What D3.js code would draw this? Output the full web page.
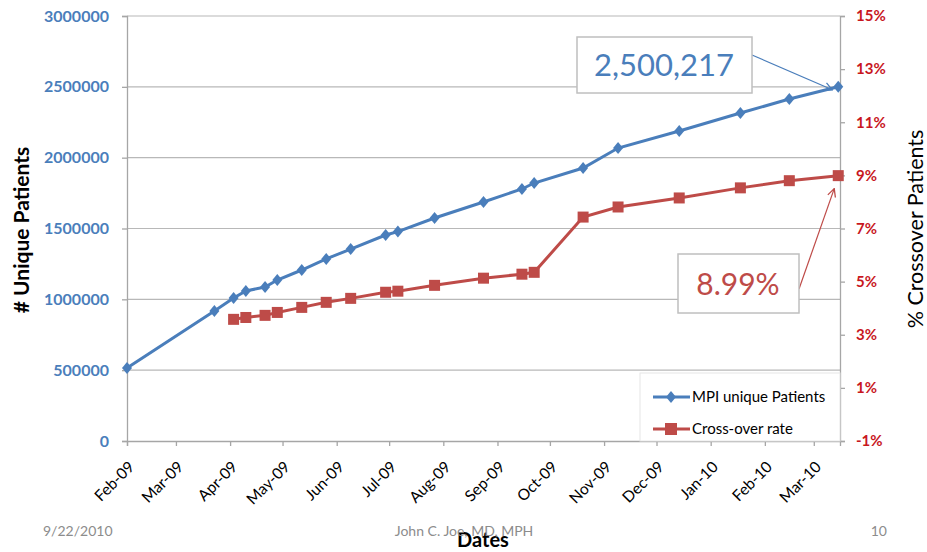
<!DOCTYPE html>
<html>
<head>
<meta charset="utf-8">
<script src="https://cdn.jsdelivr.net/npm/d3@7"></script>
<style>
  body { margin: 0; background: #fff; }
  text { font-family: Lato, "Open Sans", sans-serif; }
</style>
</head>
<body>
<div id="chart"></div>
<script>
// data
const dates = ["2009-02-01","2009-03-23","2009-04-03","2009-04-10","2009-04-21","2009-04-28",
  "2009-05-12","2009-05-26","2009-06-09","2009-06-29","2009-07-06","2009-07-27","2009-08-24",
  "2009-09-15","2009-09-22","2009-10-20","2009-11-09","2009-12-14","2010-01-18","2010-02-15","2010-03-15"];
const patients = [515000, 918000, 1009000, 1059000, 1087000, 1136000, 1207000, 1285000, 1355000,
  1454000, 1478000, 1574000, 1687000, 1779000, 1821000, 1927000, 2068000, 2188000, 2315000, 2414000, 2500217];
// cross-over rate starts at the third date
const rateDates = dates.slice(2);
const crossRate = [3.58, 3.65, 3.73, 3.84, 4.03, 4.22, 4.37, 4.60, 4.64, 4.86, 5.13, 5.28, 5.35,
  7.43, 7.81, 8.15, 8.53, 8.80, 8.99];
const leftTicks = [0, 500000, 1000000, 1500000, 2000000, 2500000, 3000000];
const rightTicks = [-1, 1, 3, 5, 7, 9, 11, 13, 15];
const seriesNames = ["MPI unique Patients", "Cross-over rate"];

const blue = "#4a7ebb", red = "#be4b48";
const parse = d3.timeParse("%Y-%m-%d");

const w = 927, h = 552;
const margin = {top: 16, right: 87, bottom: 111, left: 127};
const innerW = w - margin.left - margin.right;
const innerH = h - margin.top - margin.bottom;

const svg = d3.select("#chart").append("svg")
  .attr("width", w).attr("height", h);

const defs = svg.append("defs");
[["arrBlue", blue], ["arrRed", red]].forEach(([id, c]) => {
  defs.append("marker")
    .attr("id", id).attr("viewBox", "0 0 10 10")
    .attr("refX", 9).attr("refY", 5)
    .attr("markerWidth", 10).attr("markerHeight", 10)
    .attr("markerUnits", "userSpaceOnUse")
    .attr("orient", "auto")
    .append("path").attr("d", "M1,1L9,5L1,9")
    .attr("fill", "none").attr("stroke", c).attr("stroke-width", 1.3);
});

const g = svg.append("g").attr("transform", `translate(${margin.left},${margin.top})`);

// scales
const x = d3.scaleTime()
  .domain([parse("2009-02-01"), parse("2010-03-16")])
  .range([0, innerW]);
const yL = d3.scaleLinear().domain([0, 3000000]).range([innerH, 0]);
const yR = d3.scaleLinear().domain([-1, 15]).range([innerH, 0]);

// gridlines
g.append("g").selectAll("line")
  .data(leftTicks.filter(d => d > 0))
  .enter().append("line")
  .attr("x1", 0).attr("x2", innerW)
  .attr("y1", d => yL(d)).attr("y2", d => yL(d))
  .attr("stroke", "#b8b8b8").attr("stroke-width", 1.2);

// left axis
const yAxisG = g.append("g")
  .call(d3.axisLeft(yL).tickValues(leftTicks).tickFormat(d3.format("d")).tickSize(5).tickPadding(13));
yAxisG.selectAll("text")
  .attr("fill", blue).style("font-size", "16px").style("font-weight", "bold");

// right axis
const yAxisR = g.append("g")
  .attr("transform", `translate(${innerW},0)`)
  .call(d3.axisRight(yR).tickValues(rightTicks).tickFormat(d => d + "%").tickSize(5).tickPadding(11));
yAxisR.selectAll("text")
  .attr("fill", "#c8171e").style("font-size", "15px").style("font-weight", "bold");

// x axis
const xAxisG = g.append("g")
  .attr("transform", `translate(0,${innerH})`)
  .call(d3.axisBottom(x).ticks(d3.timeMonth.every(1)).tickFormat(d3.timeFormat("%b-%y")).tickSize(5));
xAxisG.selectAll("text")
  .attr("text-anchor", "end")
  .attr("x", 0).attr("y", 0).attr("dy", "0.35em")
  .attr("transform", "translate(4,23) rotate(-45)")
  .attr("fill", "#000").style("font-size", "15.5px");

[yAxisG, yAxisR, xAxisG].forEach(a => {
  a.select(".domain").attr("stroke", "#a6a6a6").attr("stroke-width", 1.3);
  a.selectAll(".tick line").attr("stroke", "#a6a6a6").attr("stroke-width", 1.3);
});

// series
const bluePts = dates.map((d, i) => ({date: parse(d), v: patients[i]}));
const redPts = rateDates.map((d, i) => ({date: parse(d), v: crossRate[i]}));

g.append("path")
  .attr("d", d3.line().x(d => x(d.date)).y(d => yL(d.v))(bluePts))
  .attr("fill", "none").attr("stroke", blue).attr("stroke-width", 3);
g.append("path")
  .attr("d", d3.line().x(d => x(d.date)).y(d => yR(d.v))(redPts))
  .attr("fill", "none").attr("stroke", red).attr("stroke-width", 3);

const diamond = "M0,-6L5,0L0,6L-5,0Z";
g.selectAll(".dot")
  .data(bluePts).enter().append("path")
  .attr("class", "dot")
  .attr("d", diamond)
  .attr("transform", d => `translate(${x(d.date)},${yL(d.v)})`)
  .attr("fill", blue);
g.selectAll(".sq")
  .data(redPts).enter().append("rect")
  .attr("class", "sq")
  .attr("x", d => x(d.date) - 5.5).attr("y", d => yR(d.v) - 5.5)
  .attr("width", 11).attr("height", 11)
  .attr("fill", red);

// legend
const leg = g.append("g").attr("transform", `translate(${513},${357})`);
leg.append("rect").attr("x", 0).attr("y", 0).attr("width", innerW - 513).attr("height", innerH - 357)
  .attr("fill", "#fff").attr("stroke", "#e6e6e6");
seriesNames.forEach((name, i) => {
  const row = leg.append("g").attr("transform", `translate(13,${24 + i * 32})`);
  const c = i === 0 ? blue : red;
  row.append("line").attr("x1", 0).attr("x2", 37).attr("stroke", c).attr("stroke-width", 3);
  if (i === 0) row.append("path").attr("d", diamond).attr("transform", "translate(18,0)").attr("fill", c);
  else row.append("rect").attr("x", 12).attr("y", -6).attr("width", 12).attr("height", 12).attr("fill", c);
  row.append("text").attr("x", 39).attr("dy", "0.35em")
    .style("font-size", "15px").attr("fill", "#000").text(name);
});

// callouts
const lastB = bluePts[bluePts.length - 1];
const lastR = redPts[redPts.length - 1];

svg.append("line")
  .attr("x1", 752).attr("y1", 55)
  .attr("x2", margin.left + x(lastB.date) - 6).attr("y2", margin.top + yL(lastB.v) + 3)
  .attr("stroke", blue).attr("stroke-width", 1.2).attr("marker-end", "url(#arrBlue)");
svg.append("rect").attr("x", 577).attr("y", 37).attr("width", 175).attr("height", 56)
  .attr("fill", "#fff").attr("stroke", "#bfbfbf").attr("stroke-width", 1.5);
svg.append("text").attr("x", 664).attr("y", 65).attr("dy", "0.35em")
  .attr("text-anchor", "middle").attr("fill", blue).style("font-size", "31px")
  .text(d3.format(",")(lastB.v));

svg.append("line")
  .attr("x1", 799).attr("y1", 289)
  .attr("x2", margin.left + x(lastR.date) - 4).attr("y2", margin.top + yR(lastR.v) + 13)
  .attr("stroke", red).attr("stroke-width", 1.2).attr("marker-end", "url(#arrRed)");
svg.append("rect").attr("x", 678).attr("y", 254).attr("width", 121).attr("height", 59)
  .attr("fill", "#fff").attr("stroke", "#bfbfbf").attr("stroke-width", 1.5);
svg.append("text").attr("x", 738).attr("y", 284).attr("dy", "0.35em")
  .attr("text-anchor", "middle").attr("fill", red).style("font-size", "30px")
  .text(lastR.v.toFixed(2) + "%");

// axis titles
svg.append("text")
  .attr("transform", "translate(29,230) rotate(-90)")
  .attr("text-anchor", "middle").style("font-size", "21px").style("font-weight", "bold")
  .text("# Unique Patients");
svg.append("text")
  .attr("transform", "translate(923,229) rotate(-90)")
  .attr("text-anchor", "middle").style("font-size", "21.5px")
  .text("% Crossover Patients");
svg.append("text")
  .attr("x", 483).attr("y", 547)
  .attr("text-anchor", "middle").style("font-size", "20px").style("font-weight", "bold")
  .text("Dates");

// slide footer
const foot = svg.append("g").attr("fill", "#8c8c8c").style("font-size", "14px");
foot.append("text").attr("x", 43).attr("y", 536).text("9/22/2010");
foot.append("text").attr("x", 464).attr("y", 536).attr("text-anchor", "middle").text("John C. Joe, MD, MPH");
foot.append("text").attr("x", 887).attr("y", 536).attr("text-anchor", "end").text("10");
</script>
</body>
</html>
